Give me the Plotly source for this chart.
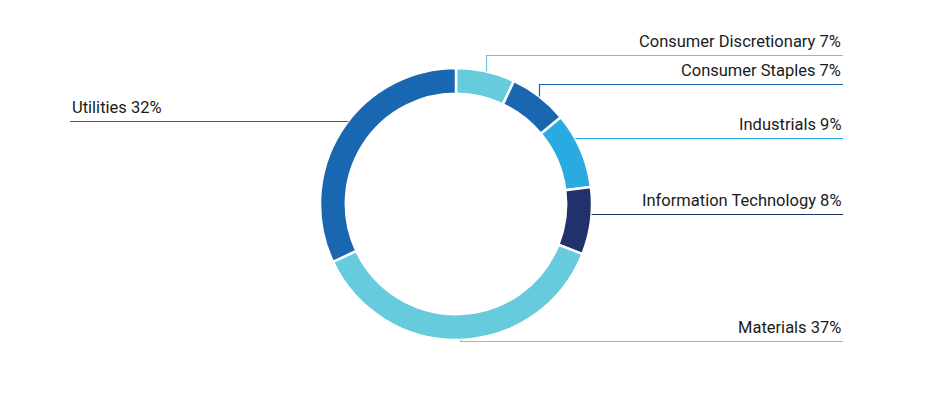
import math
import plotly.graph_objects as go

# ---- data ----
labels = ["Consumer Discretionary", "Consumer Staples", "Industrials",
          "Information Technology", "Materials", "Utilities"]
values = [7, 7, 9, 8, 37, 32]
colors = ["#66cbdc", "#1a67b1", "#29abe2", "#21316b", "#66cbdc", "#1a67b1"]

# ---- layout (pixels in the screenshot) ----
W, H = 937, 398
OFF = 8                      # page body margin
CX, CY, R = 456, 204, 136
HOLE = 0.81
label_y = [55, 84, 138, 214, 341, 121]   # y of each leader line (px from top)
RIGHT_X, LEFT_X = 843, 70

def px(x):
    return (x - OFF) / W

def py(y):
    return 1 - (y - OFF) / H

fig = go.Figure(go.Pie(
    labels=labels, values=values, sort=False, direction="clockwise", rotation=0,
    hole=HOLE, textinfo="none", hoverinfo="label+percent",
    marker=dict(colors=colors, line=dict(color="white", width=2.5)),
    domain=dict(x=[px(CX - R), px(CX + R)], y=[py(CY + R), py(CY - R)]),
    showlegend=False,
))

total = sum(values)
cum = 0
shapes, annotations = [], []
for lab, v, col, ly in zip(labels, values, colors, label_y):
    mid = (cum + v / 2) / total * 2 * math.pi
    cum += v
    ax = CX + R * math.sin(mid)
    ay = CY - R * math.cos(mid)
    right = ax >= CX
    dy = ly - CY
    lyp = ly + 0.5
    if abs(dy) < 0.8 * R and ((right and ax > CX + 0.5 * R) or (not right and ax < CX - 0.5 * R)):
        ex = CX + (1 if right else -1) * math.sqrt(R * R - dy * dy)
        pts = [(ex, lyp)]
    else:
        axr = round(ax) + 0.5
        ey = CY + (1 if ay > CY else -1) * math.sqrt(max(R * R - (ax - CX) ** 2, 0))
        pts = [(axr, ey), (axr, lyp)]
    end_x = RIGHT_X if right else LEFT_X
    pts.append((end_x, lyp))
    path = "M " + " L ".join(f"{px(x):.5f},{py(y):.5f}" for x, y in pts)
    shapes.append(dict(type="path", path=path, xref="paper", yref="paper",
                       line=dict(color=col, width=1.2)))
    annotations.append(dict(
        x=px(end_x), y=py(ly - 2), xref="paper", yref="paper",
        xanchor="right" if right else "left", yanchor="bottom",
        text=f"{lab} {v}%", showarrow=False,
        font=dict(family="Roboto", size=16.5, color="#1b1b1b")))

fig.update_layout(
    width=W, height=H, margin=dict(l=0, r=0, t=0, b=0),
    paper_bgcolor="white", plot_bgcolor="white",
    shapes=shapes, annotations=annotations,
)
fig.write_html("out.html")
